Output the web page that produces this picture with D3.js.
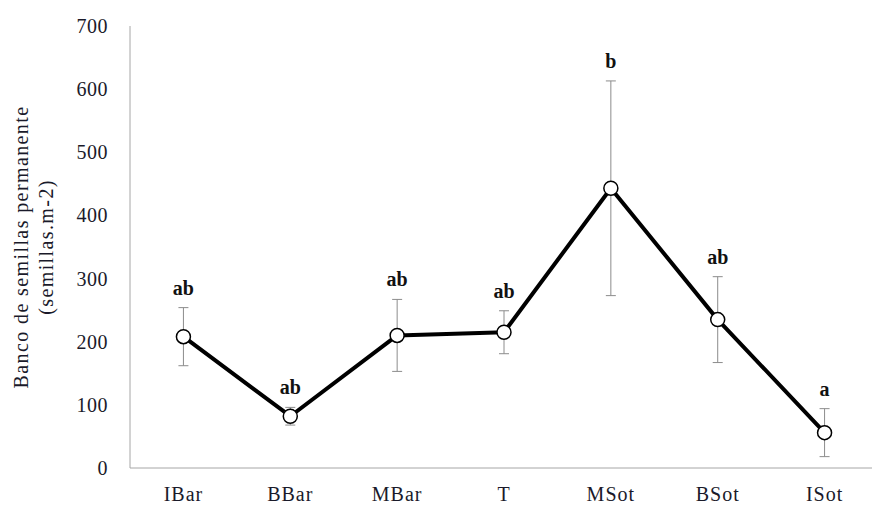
<!DOCTYPE html>
<html>
<head>
<meta charset="utf-8">
<script src="https://cdn.jsdelivr.net/npm/d3@7"></script>
<style>
  body { margin: 0; background: #fff; }
  text { font-family: "Liberation Serif", "Times New Roman", serif; }
</style>
</head>
<body>
<div id="chart"></div>
<script>
// banco de semillas permanente por sitio
const sitios = ["IBar", "BBar", "MBar", "T", "MSot", "BSot", "ISot"];
const medias = [208, 82, 210, 215, 443, 235, 56];
const errores = [46, 14, 57, 34, 170, 68, 38];
const letras = ["ab", "ab", "ab", "ab", "b", "ab", "a"];
const yTicks = [0, 100, 200, 300, 400, 500, 600, 700];

var width = 872;
var height = 506;

var svg = d3.select("#chart").append("svg")
    .attr("width", width)
    .attr("height", height);

var x = d3.scaleBand()
    .domain(sitios)
    .range([130, 878]);

var y = d3.scaleLinear()
    .domain([0, 700])
    .range([468, 26]);

var cx = function(i) { return x(sitios[i]) + x.bandwidth() / 2; };

// ejes
svg.append("line")
    .attr("x1", 130).attr("x2", 130)
    .attr("y1", y(700)).attr("y2", y(0))
    .attr("stroke", "#a6a6a6");

svg.append("line")
    .attr("x1", 130).attr("x2", width)
    .attr("y1", y(0)).attr("y2", y(0))
    .attr("stroke", "#a6a6a6");

svg.append("g")
  .selectAll("text")
  .data(yTicks)
  .enter().append("text")
    .attr("x", 108)
    .attr("y", function(d) { return y(d); })
    .attr("dy", "0.35em")
    .attr("text-anchor", "end")
    .attr("font-size", "20px")
    .attr("letter-spacing", "0.5px")
    .attr("fill", "#1a1a2a")
    .text(function(d) { return d; });

svg.append("g")
  .selectAll("text")
  .data(sitios)
  .enter().append("text")
    .attr("x", function(d, i) { return cx(i); })
    .attr("y", 501)
    .attr("text-anchor", "middle")
    .attr("font-size", "20px")
    .attr("letter-spacing", "1px")
    .attr("fill", "#1a1a2a")
    .text(function(d) { return d; });

// titulo eje y
var titulo = svg.append("text")
    .attr("transform", "translate(28,247) rotate(-90)")
    .attr("text-anchor", "middle")
    .attr("font-size", "20px")
    .attr("letter-spacing", "1.4px")
    .attr("fill", "#1a1a2a");
titulo.append("tspan").attr("x", 0).attr("y", 0).text("Banco de semillas permanente");
titulo.append("tspan").attr("x", 0).attr("y", 25).text("(semillas.m-2)");

// barras de error
var err = svg.append("g")
    .attr("stroke", "#8c8c8c")
    .attr("stroke-width", 1);

medias.forEach(function(m, i) {
  var top = y(m + errores[i]), bot = y(m - errores[i]), c = cx(i);
  err.append("line").attr("x1", c).attr("x2", c).attr("y1", top).attr("y2", bot);
  err.append("line").attr("x1", c - 5).attr("x2", c + 5).attr("y1", top).attr("y2", top);
  err.append("line").attr("x1", c - 5).attr("x2", c + 5).attr("y1", bot).attr("y2", bot);
});

// linea
var line = d3.line()
    .x(function(d, i) { return cx(i); })
    .y(function(d) { return y(d); });

svg.append("path")
    .datum(medias)
    .attr("d", line)
    .attr("fill", "none")
    .attr("stroke", "#000")
    .attr("stroke-width", 4)
    .attr("stroke-linejoin", "round");

svg.append("g")
  .selectAll("circle")
  .data(medias)
  .enter().append("circle")
    .attr("cx", function(d, i) { return cx(i); })
    .attr("cy", function(d) { return y(d); })
    .attr("r", 7)
    .attr("fill", "#fff")
    .attr("stroke", "#000")
    .attr("stroke-width", 1.5);

// letras de significancia
svg.append("g")
  .selectAll("text")
  .data(letras)
  .enter().append("text")
    .attr("x", function(d, i) { return cx(i); })
    .attr("y", function(d, i) { return y(medias[i] + errores[i]) - 13; })
    .attr("text-anchor", "middle")
    .attr("font-size", "20px")
    .attr("font-weight", "bold")
    .attr("fill", "#111")
    .text(function(d) { return d; });
</script>
</body>
</html>
